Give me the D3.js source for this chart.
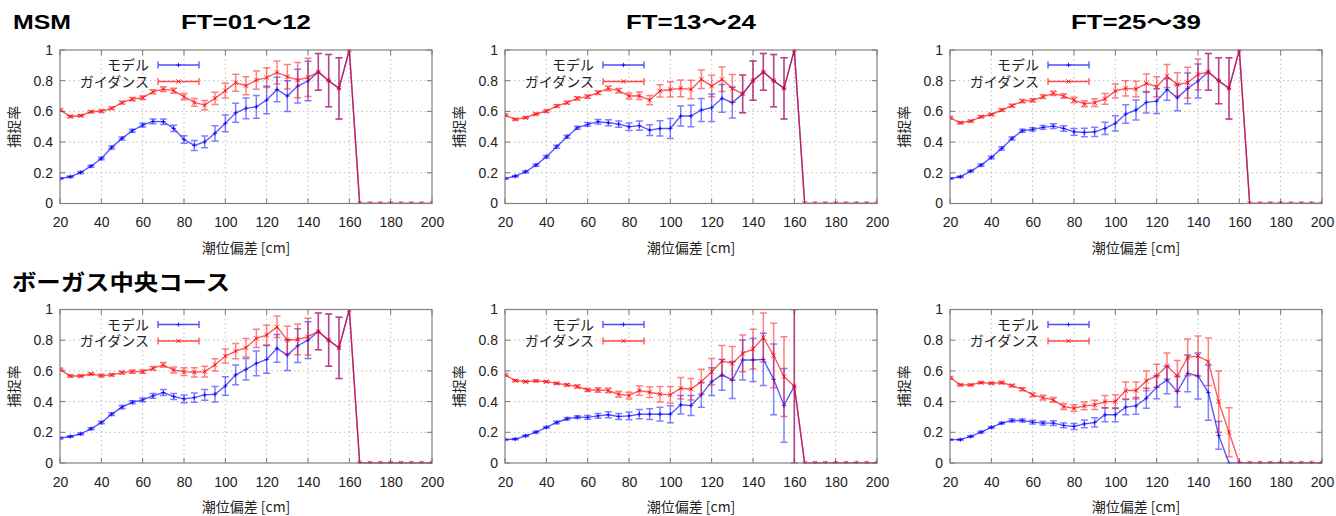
<!DOCTYPE html>
<html><head><meta charset="utf-8">
<script src="https://cdn.jsdelivr.net/npm/d3@7"></script>
<style>
html,body{margin:0;padding:0;background:#fff;}
svg text{font-family:"Liberation Sans",Arial,"Noto Sans CJK JP",sans-serif;}
.cjk{font-family:"Noto Sans CJK JP","Liberation Sans",sans-serif;}
</style></head>
<body>
<svg id="chart" width="1336" height="516"></svg>
<script>
const xs = [20,25,30,35,40,45,50,55,60,65,70,75,80,85,90,95,100,105,110,115,120,125,130,135,140,145,150,155,160,165,170,175,180,185,190,195,200];
const xTicks = [20,40,60,80,100,120,140,160,180,200];
const yTicks = [0,0.2,0.4,0.6,0.8,1];
const rowTitles = ["MSM","ボーガス中央コース"];
const colTitles = ["FT=01～12","FT=13～24","FT=25～39"];
const seriesNames = ["モデル","ガイダンス"];
const xTitle = "潮位偏差 [cm]";
const yTitle = "捕捉率";

// MSM FT=01-12
const msmModel1    = [.163,.174,.202,.243,.293,.365,.424,.474,.511,.535,.533,.489,.417,.378,.402,.457,.522,.591,.620,.630,.674,.743,.700,.765,.798,.857,.8,.75,1,0,0,0,0,0,0,0,0];
const msmModelErr1 = [.005,.005,.006,.007,.008,.01,.01,.01,.012,.015,.018,.02,.025,.033,.038,.05,.055,.062,.068,.074,.09,.08,.1,.11,.128,.12,.17,.2,0,0,0,0,0,0,0,0,0];
const msmGuide1    = [.609,.567,.572,.598,.602,.620,.657,.680,.689,.728,.745,.735,.696,.659,.641,.685,.735,.787,.767,.804,.820,.854,.826,.804,.822,.857,.8,.75,1,0,0,0,0,0,0,0,0];
const msmGuideErr1 = [.006,.006,.006,.006,.007,.008,.009,.01,.011,.013,.015,.016,.02,.025,.03,.04,.048,.055,.058,.06,.065,.075,.08,.115,.125,.12,.17,.2,0,0,0,0,0,0,0,0,0];
// MSM FT=13-24
const msmModel2    = [.163,.178,.207,.25,.304,.37,.435,.493,.515,.533,.526,.517,.5,.507,.478,.489,.489,.57,.57,.609,.624,.685,.657,.714,.8,.857,.8,.75,1,0,0,0,0,0,0,0,0];
const msmModelErr2 = [.005,.005,.006,.007,.008,.01,.01,.01,.012,.015,.02,.02,.025,.03,.035,.05,.065,.065,.07,.075,.09,.09,.1,.123,.128,.12,.17,.2,0,0,0,0,0,0,0,0,0];
const msmGuide2    = [.576,.548,.559,.583,.602,.635,.657,.685,.696,.722,.75,.735,.70,.702,.674,.733,.743,.75,.743,.809,.765,.809,.75,.714,.8,.857,.8,.75,1,0,0,0,0,0,0,0,0];
const msmGuideErr2 = [.006,.006,.006,.006,.007,.008,.009,.01,.011,.012,.015,.015,.02,.025,.03,.04,.05,.055,.06,.06,.07,.08,.09,.123,.128,.12,.17,.2,0,0,0,0,0,0,0,0,0];
// MSM FT=25-39
const msmModel3    = [.163,.174,.211,.25,.30,.359,.424,.474,.483,.496,.504,.489,.467,.463,.467,.489,.522,.583,.609,.659,.667,.743,.689,.75,.798,.857,.8,.75,1,0,0,0,0,0,0,0,0];
const msmModelErr3 = [.005,.005,.006,.007,.008,.01,.01,.01,.011,.012,.015,.018,.022,.028,.03,.04,.05,.06,.065,.07,.08,.07,.085,.1,.11,.12,.15,.2,0,0,0,0,0,0,0,0,0];
const msmGuide3    = [.559,.526,.537,.565,.58,.609,.637,.667,.672,.696,.717,.70,.674,.650,.657,.682,.733,.75,.746,.783,.761,.83,.776,.787,.841,.857,.8,.75,1,0,0,0,0,0,0,0,0];
const msmGuideErr3 = [.006,.006,.006,.006,.007,.008,.009,.01,.011,.012,.014,.015,.018,.02,.025,.035,.045,.05,.05,.06,.065,.075,.075,.1,.1,.12,.15,.2,0,0,0,0,0,0,0,0,0];
// Bogus FT=01-12
const bogusModel1    = [.162,.173,.19,.223,.264,.318,.364,.396,.411,.437,.459,.433,.418,.426,.444,.448,.502,.574,.61,.649,.675,.747,.703,.764,.80,.857,.8,.75,1,0,0,0,0,0,0,0,0];
const bogusModelErr1 = [.005,.005,.006,.007,.008,.009,.01,.01,.012,.015,.02,.02,.025,.03,.035,.05,.06,.065,.07,.08,.09,.09,.1,.11,.12,.12,.17,.2,0,0,0,0,0,0,0,0,0];
const bogusGuide1    = [.61,.567,.567,.58,.569,.574,.589,.595,.595,.617,.639,.606,.595,.591,.595,.639,.697,.729,.751,.812,.833,.887,.801,.805,.823,.857,.8,.75,1,0,0,0,0,0,0,0,0];
const bogusGuideErr1 = [.006,.006,.006,.006,.007,.008,.009,.01,.011,.012,.015,.02,.025,.03,.035,.04,.045,.05,.06,.06,.065,.07,.09,.1,.12,.12,.17,.2,0,0,0,0,0,0,0,0,0];
// Bogus FT=13-24
const bogusModel2    = [.152,.156,.177,.201,.232,.264,.288,.299,.297,.307,.314,.303,.307,.318,.318,.318,.318,.379,.374,.444,.53,.574,.541,.671,.671,.675,.545,.375,.5,0,0,0,0,0,0,0,0];
const bogusModelErr2 = [.004,.004,.005,.006,.006,.008,.008,.009,.012,.015,.02,.02,.025,.03,.035,.045,.055,.06,.065,.08,.09,.1,.12,.13,.14,.17,.23,.24,.5,0,0,0,0,0,0,0,0];
const bogusGuide2    = [.574,.537,.53,.535,.53,.519,.509,.498,.476,.476,.472,.448,.439,.472,.461,.448,.444,.487,.481,.53,.595,.665,.649,.714,.742,.818,.70,.563,.5,0,0,0,0,0,0,0,0];
const bogusGuideErr2 = [.006,.006,.006,.006,.006,.006,.007,.01,.01,.015,.015,.02,.022,.03,.035,.05,.055,.07,.07,.08,.085,.1,.11,.12,.13,.16,.21,.26,.5,0,0,0,0,0,0,0,0];
// Bogus FT=25-39
const bogusModel3    = [.152,.152,.173,.201,.232,.26,.277,.277,.266,.26,.26,.245,.238,.255,.264,.314,.314,.364,.372,.422,.494,.541,.465,.584,.567,.459,.18,0,0,0,0,0,0,0,0,0,0];
const bogusModelErr3 = [.004,.004,.005,.006,.006,.006,.01,.01,.012,.012,.015,.015,.02,.025,.03,.045,.045,.05,.055,.065,.075,.09,.1,.12,.15,.18,.09,0,0,0,0,0,0,0,0,0,0];
const bogusGuide3    = [.556,.509,.509,.524,.519,.524,.504,.481,.444,.426,.411,.368,.357,.372,.379,.40,.40,.472,.472,.535,.569,.632,.567,.688,.697,.66,.40,.2,0,0,0,0,0,0,0,0,0];
const bogusGuideErr3 = [.006,.006,.006,.006,.006,.007,.008,.01,.012,.015,.015,.02,.022,.025,.03,.04,.045,.055,.055,.065,.075,.085,.1,.12,.13,.155,.2,.16,0,0,0,0,0,0,0,0,0];

const panels = [
  [[msmModel1,msmModelErr1,msmGuide1,msmGuideErr1],[msmModel2,msmModelErr2,msmGuide2,msmGuideErr2],[msmModel3,msmModelErr3,msmGuide3,msmGuideErr3]],
  [[bogusModel1,bogusModelErr1,bogusGuide1,bogusGuideErr1],[bogusModel2,bogusModelErr2,bogusGuide2,bogusGuideErr2],[bogusModel3,bogusModelErr3,bogusGuide3,bogusGuideErr3]]
];

const svg = d3.select("#chart");
const plotLefts = [60, 505, 950];
const plotW = 372;
const plotTops = [50, 309.5];
const plotH = 153.5;
const colors = ["#0000ff", "#ff0000"];
const cjk = '"Noto Sans CJK JP","Liberation Sans",sans-serif';
const latinFirst = '"Liberation Sans",Arial,"Noto Sans CJK JP",sans-serif';

// Titles
svg.append("text").attr("x", 13).attr("y", 29).attr("font-weight", "bold").attr("font-size", 21)
  .attr("textLength", 58).attr("lengthAdjust", "spacingAndGlyphs").text(rowTitles[0]);
svg.append("text").attr("class","cjk").attr("x", 12).attr("y", 289.5).attr("font-weight", "bold").attr("font-size", 22)
  .attr("textLength", 218).attr("lengthAdjust", "spacingAndGlyphs").text(rowTitles[1]);
colTitles.forEach((t, i) => {
  svg.append("text").attr("x", plotLefts[i] + plotW/2 - 65).attr("y", 29).attr("font-weight", "bold").attr("font-size", 21)
    .attr("textLength", 130).attr("lengthAdjust", "spacingAndGlyphs").text(t);
});

function markerPath(kind, cx, cy, s) {
  if (kind === 0) return `M${cx-s},${cy}H${cx+s}M${cx},${cy-s}V${cy+s}`;
  return `M${cx-s},${cy-s}L${cx+s},${cy+s}M${cx-s},${cy+s}L${cx+s},${cy-s}`;
}

let clipId = 0;
panels.forEach((row, r) => {
  row.forEach((pd, c) => {
    const L = plotLefts[c], T = plotTops[r];
    const x = d3.scaleLinear().domain([20, 200]).range([L, L + plotW]);
    const y = d3.scaleLinear().domain([0, 1]).range([T + plotH, T]);
    const g = svg.append("g");

    // grid
    g.selectAll(".gx").data(xTicks.slice(1, -1)).join("line")
      .attr("x1", d => x(d)).attr("x2", d => x(d)).attr("y1", T).attr("y2", T + plotH)
      .attr("stroke", "#bdbdbd").attr("stroke-width", 1).attr("stroke-dasharray", "1.5,3");
    g.selectAll(".gy").data(yTicks.slice(1, -1)).join("line")
      .attr("y1", d => y(d)).attr("y2", d => y(d)).attr("x1", L).attr("x2", L + plotW)
      .attr("stroke", "#bdbdbd").attr("stroke-width", 1).attr("stroke-dasharray", "1.5,3");

    // axes with tick labels
    const xAxis = d3.axisBottom(x).tickValues(xTicks).tickSize(0).tickPadding(14).tickFormat(d3.format("d"));
    const gx = g.append("g").attr("transform", `translate(0,${T + plotH})`).call(xAxis);
    gx.select(".domain").remove();
    gx.selectAll("text").attr("font-size", 14).attr("fill", "#222").attr("font-family", latinFirst);
    const yAxis = d3.axisLeft(y).tickValues(yTicks).tickSize(0).tickPadding(7).tickFormat(d => d === 0 || d === 1 ? d3.format("d")(d) : d3.format(".1f")(d));
    const gy = g.append("g").attr("transform", `translate(${L},0)`).call(yAxis);
    gy.select(".domain").remove();
    gy.selectAll("text").attr("font-size", 14).attr("fill", "#222").attr("font-family", latinFirst);

    // inner ticks (mirrored)
    const tk = 5;
    xTicks.forEach(v => {
      g.append("line").attr("x1", x(v)).attr("x2", x(v)).attr("y1", T + plotH).attr("y2", T + plotH - tk).attr("stroke", "#777");
      g.append("line").attr("x1", x(v)).attr("x2", x(v)).attr("y1", T).attr("y2", T + tk).attr("stroke", "#777");
    });
    yTicks.forEach(v => {
      g.append("line").attr("y1", y(v)).attr("y2", y(v)).attr("x1", L).attr("x2", L + tk).attr("stroke", "#777");
      g.append("line").attr("y1", y(v)).attr("y2", y(v)).attr("x1", L + plotW).attr("x2", L + plotW - tk).attr("stroke", "#777");
    });

    // axis titles
    g.append("text").attr("x", L + plotW/2).attr("y", T + plotH + 49).attr("text-anchor", "middle")
      .attr("font-size", 14).attr("fill", "#222").style("font-family", cjk).text(xTitle);
    g.append("text").attr("transform", `translate(${L - 47},${T + plotH/2}) rotate(-90)`).attr("text-anchor", "middle")
      .attr("dominant-baseline", "central").attr("font-size", 14).attr("fill", "#222").style("font-family", cjk).text(yTitle);

    // clip
    const cid = "clip" + (clipId++);
    svg.append("clipPath").attr("id", cid).append("rect").attr("x", L).attr("y", T - 0.5).attr("width", plotW).attr("height", plotH + 1);
    const pg = g.append("g").attr("clip-path", `url(#${cid})`);

    [0, 1].forEach(s => {
      const vals = pd[s * 2], errs = pd[s * 2 + 1];
      const pts = xs.map((xv, i) => ({x: xv, v: vals[i], e: errs[i]}));
      const col = colors[s];
      // error bars
      const eb = pg.append("g").attr("stroke", col).attr("stroke-opacity", 0.5).attr("stroke-width", 1.5).attr("fill", "none");
      pts.filter(p => p.e > 0).forEach(p => {
        const cx = x(p.x), y1 = y(Math.max(0, p.v - p.e)), y2 = y(p.v + p.e), w = 3.5;
        eb.append("path").attr("d", `M${cx},${y1}V${y2}M${cx-w},${y1}H${cx+w}M${cx-w},${y2}H${cx+w}`);
      });
      // line
      const line = d3.line().x(p => x(p.x)).y(p => y(p.v));
      pg.append("path").datum(pts).attr("d", line).attr("fill", "none").attr("stroke", col)
        .attr("stroke-opacity", 0.65).attr("stroke-width", 1.4);
      // markers
      pg.append("g").selectAll("path").data(pts).join("path")
        .attr("d", p => markerPath(s, x(p.x), y(p.v), 2.2))
        .attr("stroke", col).attr("stroke-opacity", 0.8).attr("stroke-width", 1).attr("fill", "none");
    });

    // border
    g.append("rect").attr("x", L).attr("y", T).attr("width", plotW).attr("height", plotH)
      .attr("fill", "none").attr("stroke", "#808080").attr("stroke-width", 1.2);

    // legend
    seriesNames.forEach((nm, s) => {
      const ly = T + 15 + s * 16.5;
      g.append("text").attr("x", L + 89).attr("y", ly + 5).attr("text-anchor", "end")
        .attr("font-size", 14).attr("fill", "#222").style("font-family", latinFirst).text(nm);
      const x1 = L + 98, x2 = L + 139, w = 3.5;
      g.append("path").attr("d", `M${x1},${ly}H${x2}M${x1},${ly-w}V${ly+w}M${x2},${ly-w}V${ly+w}`)
        .attr("stroke", colors[s]).attr("stroke-opacity", 0.7).attr("stroke-width", 1.3).attr("fill", "none");
      g.append("path").attr("d", markerPath(s, (x1 + x2)/2, ly, 2.2))
        .attr("stroke", colors[s]).attr("stroke-opacity", 0.8).attr("fill", "none");
    });
  });
});
</script>
</body></html>
